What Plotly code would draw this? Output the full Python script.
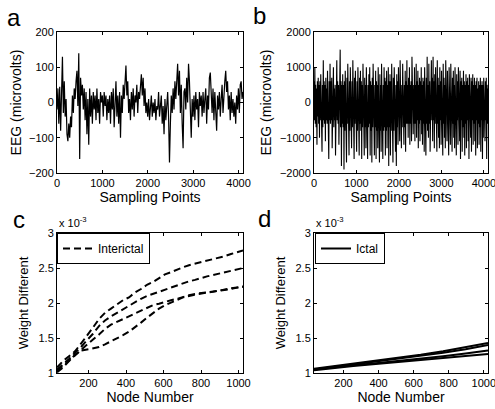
import numpy as np
import plotly.graph_objects as go

# ---------------- data ----------------
# (a) interictal EEG (microvolts), evenly spaced over 0..4097 samples
eeg_interictal = [
    -20, 40, -60, 45, -80, 20, 130, -30, 60, -40, 10,
    -90, -110, -60, -100, -40, -70, 20, -30, 40, 10,
    60, 90, -10, 140, -160, 70, 20, 50, -20, 40,
    -50, 30, -90, 10, -120, 40, -40, 20, -60, 30,
    -20, 20, -50, 40, -30, 10, -60, 30, 0, 20,
    -40, 30, -10, 20, -50, 10, -30, 20, -60, 30,
    -20, 40, -70, 10, 60, -40, 20, -60, 30, -100,
    20, -30, 50, 10, 70, 105, 20, 60, -30, 10,
    -50, 30, -20, 40, -40, 20, 0, 50, -30, 30,
    10, 50, 80, 20, 70, -10, 40, -30, 0, -40,
    10, -50, -20, 20, -40, 0, -30, 10, -50, -10,
    -20, 30, -40, 0, 20, -60, -10, -90, 10, -50,
    -20, 30, -40, -170, -60, 20, -30, 40, -20, 60,
    10, 80, 110, 20, 90, -30, 50, -60, -130, 30,
    40, -20, 70, 0, 110, 60, -30, -100, 10, -40,
    20, -50, 30, -20, 10, -70, 30, -10, 20, -40,
    30, -30, 10, 40, -60, 20, -20, 70, 85, 10,
    -30, 40, -50, 30, -10, -80, 20, -20, 30, -40,
    10, 50, -30, 40, 60, 90, 30, 60, -20, 20,
    -50, 30, -30, 10, -40, 0, -60, 20, -20, 40,
    -30, 50, 60, 10, 30,
]

# (b) ictal EEG (microvolts)
eeg_ictal = [
    600, -500, 1000, -600, 500, -700, 400, -1200, 600, -400,
    700, -600, 500, -1000, 600, -500, 800, -600, 400, -1400,
    500, -700, 1200, -500, 600, -600, 500, -1100, 700, -500,
    400, -600, 900, -700, 500, -1600, 600, -500, 1100, -600,
    600, -500, 700, -1300, 500, -600, 1000, -700, 400, -500,
    500, -1500, 600, -700, 1200, -500, 600, -600, 500, -1200,
    700, -600, 1500, -700, 600, -1800, 500, -600, 800, -700,
    500, -1900, 600, -800, 900, -600, 500, -1700, 700, -600,
    1100, -700, 500, -1500, 600, -800, 1000, -600, 500, -1300,
    600, -700, 1200, -800, 500, -1600, 700, -600, 900, -700,
    500, -1400, 600, -800, 1000, -700, 500, -1500, 700, -600,
    900, -800, 600, -1600, 500, -700, 1100, -800, 600, -1500,
    700, -700, 500, -1300, 1000, -800, 600, -1600, 500, -700,
    800, -600, 1000, -1500, 600, -800, 500, -1700, 700, -700,
    1100, -800, 600, -1500, 500, -700, 900, -1600, 600, -800,
    500, -1300, 1000, -700, 600, -1700, 800, -800, 500, -1400,
    1100, -700, 600, -1600, 500, -800, 1000, -700, 700, -1500,
    600, -800, 900, -1300, 500, -700, 1000, -1800, 600, -700,
    800, -1500, 600, -800, 1100, -700, 500, -1700, 700, -800,
    1000, -700, 600, -1400, 500, -1800, 800, -700, 600, -1200,
    1000, -700, 500, -1100, 1200, -600, 600, -1300, 500, -700,
    1100, -600, 600, -1200, 500, -700, 900, -1400, 600, -600,
    1200, -600, 500, -1000, 700, -600, 1000, -1200, 500, -600,
    600, -1100, 1300, -500, 600, -900, 500, -600, 1000, -1100,
    500, -600, 1100, -1000, 600, -500, 900, -1300, 500, -600,
    700, -1100, 600, -500, 1000, -900, 500, -1200, 700, -600,
    600, -1400, 1000, -500, 500, -1500, 700, -600, 1300, -800,
    500, -1000, 1100, -600, 600, -1400, 500, -700, 1200, -500,
    700, -1100, 1300, -500, 600, -1300, 800, -600, 1000, -900,
    500, -1400, 1200, -600, 700, -1000, 500, -1300, 1000, -500,
    600, -1200, 900, -600, 500, -1500, 1100, -600, 700, -1000,
    500, -1300, 1200, -500, 600, -1100, 900, -600, 500, -1500,
    1000, -600, 600, -1200, 1100, -500, 500, -1400, 700, -600,
    900, -1000, 500, -1300, 1000, -600, 600, -1500, 800, -500,
    600, -1200, 1000, -600, 500, -1100, 900, -1600, 600, -500,
    700, -1400, 500, -700, 900, -1000, 600, -1500, 500, -600,
    800, -1300, 600, -500, 700, -1100, 500, -1600, 800, -500,
    500, -1000, 700, -1400, 600, -500, 800, -1200, 500, -600,
    700, -1100, 500, -1500, 600, -500, 700, -1300, 400, -600,
    600, -1200, 500, -700, 700, -1400, 500, -500, 600, -1600,
    500, -1000, 700, -600, 400, -1100, 600, -500, 700, -1600,
    500, -600, 400,
]

# (c) interictal weight difference (x 10^-3) vs node number
nodes_c = [32, 64, 96, 128, 160, 192, 224, 256, 288, 320, 352, 384, 416, 448, 480, 512,
           544, 576, 608, 640, 672, 704, 736, 768, 800, 832, 864, 896, 928, 960, 992, 1024]
inter_1 = [1.08, 1.17, 1.24, 1.31, 1.42, 1.53, 1.65, 1.77, 1.86, 1.92, 1.98, 2.04, 2.08, 2.15, 2.20, 2.26,
           2.30, 2.36, 2.41, 2.44, 2.48, 2.51, 2.54, 2.56, 2.58, 2.60, 2.62, 2.65, 2.67, 2.70, 2.73, 2.75]
inter_2 = [1.05, 1.12, 1.20, 1.29, 1.37, 1.47, 1.56, 1.67, 1.75, 1.81, 1.86, 1.91, 1.96, 2.02, 2.06, 2.10,
           2.13, 2.17, 2.20, 2.23, 2.25, 2.28, 2.31, 2.33, 2.36, 2.38, 2.40, 2.42, 2.44, 2.46, 2.48, 2.50]
inter_3 = [1.03, 1.10, 1.17, 1.25, 1.33, 1.41, 1.48, 1.55, 1.63, 1.69, 1.73, 1.77, 1.81, 1.85, 1.89, 1.93,
           1.97, 1.99, 2.02, 2.04, 2.06, 2.09, 2.11, 2.13, 2.14, 2.16, 2.17, 2.18, 2.19, 2.20, 2.22, 2.24]
inter_4 = [1.01, 1.08, 1.17, 1.26, 1.32, 1.34, 1.35, 1.37, 1.41, 1.45, 1.50, 1.54, 1.59, 1.65, 1.72, 1.79,
           1.86, 1.92, 1.97, 2.01, 2.05, 2.08, 2.10, 2.12, 2.14, 2.15, 2.16, 2.18, 2.20, 2.21, 2.22, 2.23]

# (d) ictal weight difference (x 10^-3)
nodes_d = [32, 128, 256, 384, 512, 640, 768, 896, 1024]
ictal_1 = [1.06, 1.09, 1.13, 1.17, 1.21, 1.26, 1.31, 1.37, 1.43]
ictal_2 = [1.05, 1.08, 1.12, 1.16, 1.20, 1.24, 1.29, 1.34, 1.40]
ictal_3 = [1.05, 1.08, 1.11, 1.14, 1.17, 1.20, 1.24, 1.28, 1.32]
ictal_4 = [1.04, 1.07, 1.10, 1.13, 1.16, 1.19, 1.21, 1.24, 1.27]

x_ticks_eeg = [0, 1000, 2000, 3000, 4000]
y_ticks_a = [-200, -100, 0, 100, 200]
y_ticks_b = [-2000, -1000, 0, 1000, 2000]
x_ticks_node = [200, 400, 600, 800, 1000]
y_ticks_w = [1, 1.5, 2, 2.5, 3]
y_ticktext_w = ["1", "1.5", "2", "2.5", "3"]

# ---------------- figure ----------------
W, H = 495, 409
FONT = "Liberation Sans, Arial, sans-serif"

def px_x(p):
    return p / W

def px_y(p):
    return 1 - p / H

fig = go.Figure()

xs_a = np.linspace(0, 4096, len(eeg_interictal))
xs_b = np.linspace(0, 4096, len(eeg_ictal))

fig.add_trace(go.Scatter(x=xs_a, y=eeg_interictal, mode="lines", line=dict(color="black", width=1.2),
                         xaxis="x", yaxis="y", showlegend=False))
fig.add_trace(go.Scatter(x=xs_b, y=eeg_ictal, mode="lines", line=dict(color="black", width=1.1),
                         xaxis="x2", yaxis="y2", showlegend=False))

for i, ys in enumerate([inter_1, inter_2, inter_3, inter_4]):
    fig.add_trace(go.Scatter(x=nodes_c, y=ys, mode="lines", name="Interictal",
                             line=dict(color="black", width=2, dash="7px,4px"),
                             xaxis="x3", yaxis="y3", showlegend=(i == 0), legend="legend"))
for i, ys in enumerate([ictal_1, ictal_2, ictal_3, ictal_4]):
    fig.add_trace(go.Scatter(x=nodes_d, y=ys, mode="lines", name="Ictal",
                             line=dict(color="black", width=2),
                             xaxis="x4", yaxis="y4", showlegend=(i == 0), legend="legend2"))

axis_common = dict(showline=True, linecolor="black", linewidth=1, mirror="ticks",
                   ticks="inside", ticklen=3, tickcolor="black", showgrid=False, zeroline=False,
                   automargin=False, ticklabeloverflow="allow",
                   tickfont=dict(family=FONT, size=11, color="black"))

top_dom = [px_y(173), px_y(32)]
bot_dom = [px_y(373), px_y(233)]
left_dom = [px_x(57), px_x(243)]
right_dom = [px_x(314), px_x(488)]

fig.update_layout(
    template="none",
    width=W, height=H,
    margin=dict(l=0, r=0, t=0, b=0, autoexpand=False),
    paper_bgcolor="white", plot_bgcolor="white",
    font=dict(family=FONT, color="black"),
    xaxis=dict(domain=left_dom, anchor="y", range=[0, 4097], tickvals=x_ticks_eeg,
               title=dict(text="Sampling Points", font=dict(size=14), standoff=2), **axis_common),
    yaxis=dict(domain=top_dom, anchor="x", range=[-200, 200], tickvals=y_ticks_a,
               title=dict(text="EEG (microvolts)", font=dict(size=14), standoff=4), **axis_common),
    xaxis2=dict(domain=right_dom, anchor="y2", range=[0, 4097], tickvals=x_ticks_eeg,
                title=dict(text="Sampling Points", font=dict(size=14), standoff=2), **axis_common),
    yaxis2=dict(domain=top_dom, anchor="x2", range=[-2000, 2000], tickvals=y_ticks_b,
                title=dict(text="EEG (microvolts)", font=dict(size=14), standoff=4), **axis_common),
    xaxis3=dict(domain=left_dom, anchor="y3", range=[32, 1024], tickvals=x_ticks_node,
                title=dict(text="Node Number", font=dict(size=14), standoff=2), **axis_common),
    yaxis3=dict(domain=bot_dom, anchor="x3", range=[1, 3], tickvals=y_ticks_w, ticktext=y_ticktext_w,
                title=dict(text="Weight Different", font=dict(size=13), standoff=6), **axis_common),
    xaxis4=dict(domain=right_dom, anchor="y4", range=[32, 1024], tickvals=x_ticks_node,
                title=dict(text="Node Number", font=dict(size=14), standoff=2), **axis_common),
    yaxis4=dict(domain=bot_dom, anchor="x4", range=[1, 3], tickvals=y_ticks_w, ticktext=y_ticktext_w,
                title=dict(text="Weight Different", font=dict(size=13), standoff=6), **axis_common),
    legend=dict(x=px_x(57), y=px_y(233), xanchor="left", yanchor="top",
                bordercolor="black", borderwidth=1, bgcolor="white",
                font=dict(family=FONT, size=12, color="black"), tracegroupgap=0),
    legend2=dict(x=px_x(315), y=px_y(233), xanchor="left", yanchor="top",
                 bordercolor="black", borderwidth=1, bgcolor="white",
                 font=dict(family=FONT, size=12, color="black"), tracegroupgap=0),
)

letters = [("a", 14, 17), ("b", 259, 16), ("c", 19, 219), ("d", 264, 218)]
for t, x, y in letters:
    fig.add_annotation(text=t, x=px_x(x), y=px_y(y), xref="paper", yref="paper",
                       showarrow=False, font=dict(family=FONT, size=24, color="black"),
                       xanchor="center", yanchor="middle")

for x in (57, 314):
    fig.add_annotation(text="x 10<sup>-3</sup>", x=px_x(x), y=px_y(222), xref="paper", yref="paper",
                       showarrow=False, font=dict(family=FONT, size=11, color="black"),
                       xanchor="left", yanchor="middle")

# remove the page's default body margin so the figure sits at the window's top-left corner
fig.write_html("out.html", config={"displayModeBar": False},
               post_script="document.body.style.margin='0';document.body.style.overflow='hidden';")
